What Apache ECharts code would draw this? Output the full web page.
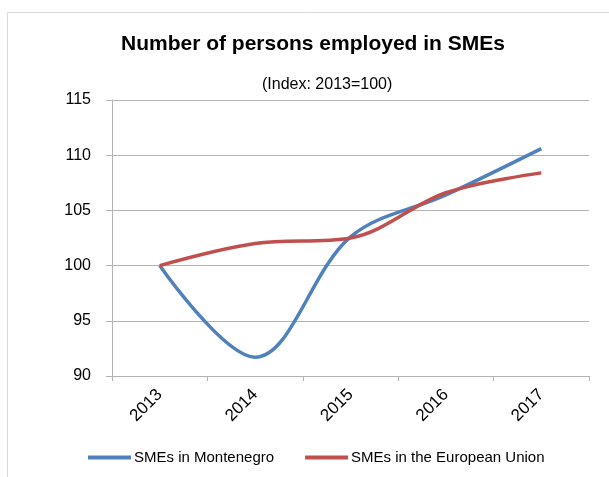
<!DOCTYPE html>
<html>
<head>
<meta charset="utf-8">
<script src="https://cdn.jsdelivr.net/npm/echarts@6/dist/echarts.min.js"></script>
<style>
  html, body { margin: 0; padding: 0; background: #fff; }
  #main { width: 609px; height: 477px; }
</style>
</head>
<body>
<div id="main"></div>
<script>
// 年份 + 两条指数线 (2013=100)
var years = ['2013', '2014', '2015', '2016', '2017']
var montenegro = [100, 91.7, 102.6, 106.4, 110.6]
var europeanUnion = [100, 102.0, 102.5, 106.6, 108.4]
var yTicks = [90, 95, 100, 105, 110, 115]

var font = '"Liberation Sans", Arial, sans-serif'
var chart = echarts.init(document.getElementById('main'))

var option = {
    animation: false,
    backgroundColor: '#fff',
    graphic: [{
        type: 'rect',
        shape: { x: 7.5, y: 12.5, width: 700, height: 600 },
        style: { fill: 'none', stroke: '#d9d9d9', lineWidth: 1 },
        silent: true
    }],
    title: [{
        text: 'Number of persons employed in SMEs',
        left: 116,
        top: 29,
        textStyle: { fontFamily: font, fontSize: 21, fontWeight: 'bold', color: '#000' }
    }, {
        text: '(Index: 2013=100)',
        left: 257,
        top: 72,
        textStyle: { fontFamily: font, fontSize: 16, fontWeight: 'normal', color: '#000' }
    }],
    legend: {
        left: 83,
        top: 445,
        itemWidth: 43,
        itemHeight: 4,
        itemGap: 31,
        icon: 'rect',
        textStyle: { fontFamily: font, fontSize: 15, color: '#000', padding: [0, 0, 0, -2] },
        data: ['SMEs in Montenegro', 'SMEs in the European Union']
    },
    grid: {
        left: 112,
        right: 20,
        top: 100,
        bottom: 101
    },
    xAxis: {
        type: 'category',
        data: years,
        boundaryGap: true,
        axisLine: { lineStyle: { color: '#b3b3b3' } },
        axisTick: { show: true, length: 5, lineStyle: { color: '#b3b3b3' } },
        axisLabel: {
            rotate: 45,
            margin: 16,
            fontFamily: font,
            fontSize: 17,
            color: '#000'
        }
    },
    yAxis: {
        type: 'value',
        min: yTicks[0],
        max: yTicks[yTicks.length - 1],
        interval: 5,
        axisLine: { show: true, lineStyle: { color: '#b3b3b3' } },
        axisTick: { show: true, inside: false, length: 6, lineStyle: { color: '#b3b3b3' } },
        splitLine: { show: true, lineStyle: { color: '#b3b3b3' } },
        axisLabel: {
            margin: 21,
            fontFamily: font,
            fontSize: 16,
            color: '#000'
        }
    },
    series: [{
        name: 'SMEs in Montenegro',
        type: 'line',
        data: montenegro,
        smooth: 0.35,
        showSymbol: false,
        color: '#4f81bd',
        lineStyle: { width: 3.5, color: '#4f81bd' }
    }, {
        name: 'SMEs in the European Union',
        type: 'line',
        data: europeanUnion,
        smooth: 0.35,
        showSymbol: false,
        color: '#c0504d',
        lineStyle: { width: 3.5, color: '#c0504d' }
    }]
}
chart.setOption(option)
</script>
</body>
</html>
